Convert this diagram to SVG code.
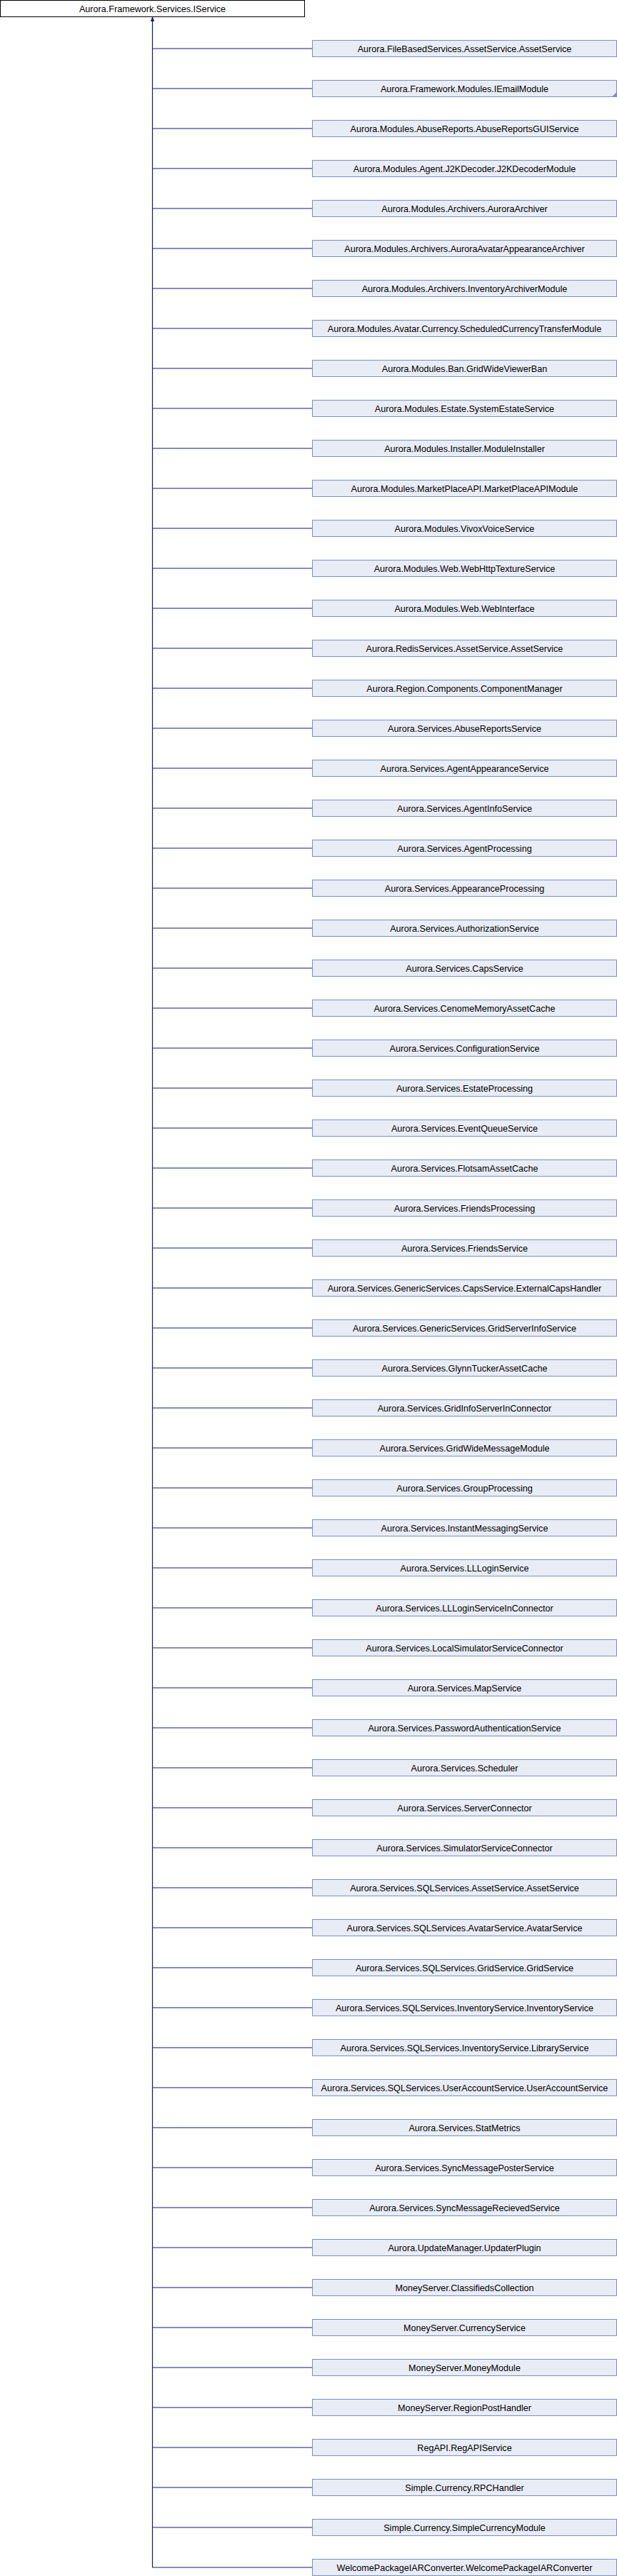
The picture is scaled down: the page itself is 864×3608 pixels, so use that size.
<svg xmlns="http://www.w3.org/2000/svg" width="864" height="3608" viewBox="0 0 864 3608">
<style>
.bg{fill:#ffffff}
.root rect{fill:#ffffff;stroke:#000000;stroke-width:1}
.node rect{fill:#e8ecf5;stroke:#7c8fc6;stroke-width:1}
.node polygon{fill:#7c8fc6}
text{font-family:"Liberation Sans",Arial,sans-serif;font-size:12.6px;fill:#000000;text-anchor:middle}
.edges path{fill:none;stroke:#191970;stroke-width:1.2}
.edges polygon{fill:#191970;stroke:#191970}
</style>
<rect class="bg" x="0" y="0" width="864" height="3608"/>
<g id="edges" class="edges">
<path d="M213.5,29V3596M213.5,68H437.5M213.5,124H437.5M213.5,180H437.5M213.5,236H437.5M213.5,292H437.5M213.5,348H437.5M213.5,404H437.5M213.5,460H437.5M213.5,516H437.5M213.5,572H437.5M213.5,628H437.5M213.5,684H437.5M213.5,740H437.5M213.5,796H437.5M213.5,852H437.5M213.5,908H437.5M213.5,964H437.5M213.5,1020H437.5M213.5,1076H437.5M213.5,1132H437.5M213.5,1188H437.5M213.5,1244H437.5M213.5,1300H437.5M213.5,1356H437.5M213.5,1412H437.5M213.5,1468H437.5M213.5,1524H437.5M213.5,1580H437.5M213.5,1636H437.5M213.5,1692H437.5M213.5,1748H437.5M213.5,1804H437.5M213.5,1860H437.5M213.5,1916H437.5M213.5,1972H437.5M213.5,2028H437.5M213.5,2084H437.5M213.5,2140H437.5M213.5,2196H437.5M213.5,2252H437.5M213.5,2308H437.5M213.5,2364H437.5M213.5,2420H437.5M213.5,2476H437.5M213.5,2532H437.5M213.5,2588H437.5M213.5,2644H437.5M213.5,2700H437.5M213.5,2756H437.5M213.5,2812H437.5M213.5,2868H437.5M213.5,2924H437.5M213.5,2980H437.5M213.5,3036H437.5M213.5,3092H437.5M213.5,3148H437.5M213.5,3204H437.5M213.5,3260H437.5M213.5,3316H437.5M213.5,3372H437.5M213.5,3428H437.5M213.5,3484H437.5M213.5,3540H437.5M213.5,3596H437.5"/>
<polygon points="213.5,24 211.5,29.5 215.5,29.5"/>
</g>
<g id="root" class="root"><rect x="0.5" y="0.5" width="426" height="23"/><text x="213.5" y="16.5">Aurora.Framework.Services.IService</text></g>
<g id="n0" class="node"><rect x="437.5" y="56.5" width="426" height="23"/><text x="650.5" y="72.5">Aurora.FileBasedServices.AssetService.AssetService</text></g>
<g id="n1" class="node"><rect x="437.5" y="112.5" width="426" height="23"/><polygon points="863.5,129 863.5,135.5 857,135.5"/><text x="650.5" y="128.5">Aurora.Framework.Modules.IEmailModule</text></g>
<g id="n2" class="node"><rect x="437.5" y="168.5" width="426" height="23"/><text x="650.5" y="184.5">Aurora.Modules.AbuseReports.AbuseReportsGUIService</text></g>
<g id="n3" class="node"><rect x="437.5" y="224.5" width="426" height="23"/><text x="650.5" y="240.5">Aurora.Modules.Agent.J2KDecoder.J2KDecoderModule</text></g>
<g id="n4" class="node"><rect x="437.5" y="280.5" width="426" height="23"/><text x="650.5" y="296.5">Aurora.Modules.Archivers.AuroraArchiver</text></g>
<g id="n5" class="node"><rect x="437.5" y="336.5" width="426" height="23"/><text x="650.5" y="352.5">Aurora.Modules.Archivers.AuroraAvatarAppearanceArchiver</text></g>
<g id="n6" class="node"><rect x="437.5" y="392.5" width="426" height="23"/><text x="650.5" y="408.5">Aurora.Modules.Archivers.InventoryArchiverModule</text></g>
<g id="n7" class="node"><rect x="437.5" y="448.5" width="426" height="23"/><text x="650.5" y="464.5">Aurora.Modules.Avatar.Currency.ScheduledCurrencyTransferModule</text></g>
<g id="n8" class="node"><rect x="437.5" y="504.5" width="426" height="23"/><text x="650.5" y="520.5">Aurora.Modules.Ban.GridWideViewerBan</text></g>
<g id="n9" class="node"><rect x="437.5" y="560.5" width="426" height="23"/><text x="650.5" y="576.5">Aurora.Modules.Estate.SystemEstateService</text></g>
<g id="n10" class="node"><rect x="437.5" y="616.5" width="426" height="23"/><text x="650.5" y="632.5">Aurora.Modules.Installer.ModuleInstaller</text></g>
<g id="n11" class="node"><rect x="437.5" y="672.5" width="426" height="23"/><text x="650.5" y="688.5">Aurora.Modules.MarketPlaceAPI.MarketPlaceAPIModule</text></g>
<g id="n12" class="node"><rect x="437.5" y="728.5" width="426" height="23"/><text x="650.5" y="744.5">Aurora.Modules.VivoxVoiceService</text></g>
<g id="n13" class="node"><rect x="437.5" y="784.5" width="426" height="23"/><text x="650.5" y="800.5">Aurora.Modules.Web.WebHttpTextureService</text></g>
<g id="n14" class="node"><rect x="437.5" y="840.5" width="426" height="23"/><text x="650.5" y="856.5">Aurora.Modules.Web.WebInterface</text></g>
<g id="n15" class="node"><rect x="437.5" y="896.5" width="426" height="23"/><text x="650.5" y="912.5">Aurora.RedisServices.AssetService.AssetService</text></g>
<g id="n16" class="node"><rect x="437.5" y="952.5" width="426" height="23"/><text x="650.5" y="968.5">Aurora.Region.Components.ComponentManager</text></g>
<g id="n17" class="node"><rect x="437.5" y="1008.5" width="426" height="23"/><text x="650.5" y="1024.5">Aurora.Services.AbuseReportsService</text></g>
<g id="n18" class="node"><rect x="437.5" y="1064.5" width="426" height="23"/><text x="650.5" y="1080.5">Aurora.Services.AgentAppearanceService</text></g>
<g id="n19" class="node"><rect x="437.5" y="1120.5" width="426" height="23"/><text x="650.5" y="1136.5">Aurora.Services.AgentInfoService</text></g>
<g id="n20" class="node"><rect x="437.5" y="1176.5" width="426" height="23"/><text x="650.5" y="1192.5">Aurora.Services.AgentProcessing</text></g>
<g id="n21" class="node"><rect x="437.5" y="1232.5" width="426" height="23"/><text x="650.5" y="1248.5">Aurora.Services.AppearanceProcessing</text></g>
<g id="n22" class="node"><rect x="437.5" y="1288.5" width="426" height="23"/><text x="650.5" y="1304.5">Aurora.Services.AuthorizationService</text></g>
<g id="n23" class="node"><rect x="437.5" y="1344.5" width="426" height="23"/><text x="650.5" y="1360.5">Aurora.Services.CapsService</text></g>
<g id="n24" class="node"><rect x="437.5" y="1400.5" width="426" height="23"/><text x="650.5" y="1416.5">Aurora.Services.CenomeMemoryAssetCache</text></g>
<g id="n25" class="node"><rect x="437.5" y="1456.5" width="426" height="23"/><text x="650.5" y="1472.5">Aurora.Services.ConfigurationService</text></g>
<g id="n26" class="node"><rect x="437.5" y="1512.5" width="426" height="23"/><text x="650.5" y="1528.5">Aurora.Services.EstateProcessing</text></g>
<g id="n27" class="node"><rect x="437.5" y="1568.5" width="426" height="23"/><text x="650.5" y="1584.5">Aurora.Services.EventQueueService</text></g>
<g id="n28" class="node"><rect x="437.5" y="1624.5" width="426" height="23"/><text x="650.5" y="1640.5">Aurora.Services.FlotsamAssetCache</text></g>
<g id="n29" class="node"><rect x="437.5" y="1680.5" width="426" height="23"/><text x="650.5" y="1696.5">Aurora.Services.FriendsProcessing</text></g>
<g id="n30" class="node"><rect x="437.5" y="1736.5" width="426" height="23"/><text x="650.5" y="1752.5">Aurora.Services.FriendsService</text></g>
<g id="n31" class="node"><rect x="437.5" y="1792.5" width="426" height="23"/><text x="650.5" y="1808.5">Aurora.Services.GenericServices.CapsService.ExternalCapsHandler</text></g>
<g id="n32" class="node"><rect x="437.5" y="1848.5" width="426" height="23"/><text x="650.5" y="1864.5">Aurora.Services.GenericServices.GridServerInfoService</text></g>
<g id="n33" class="node"><rect x="437.5" y="1904.5" width="426" height="23"/><text x="650.5" y="1920.5">Aurora.Services.GlynnTuckerAssetCache</text></g>
<g id="n34" class="node"><rect x="437.5" y="1960.5" width="426" height="23"/><text x="650.5" y="1976.5">Aurora.Services.GridInfoServerInConnector</text></g>
<g id="n35" class="node"><rect x="437.5" y="2016.5" width="426" height="23"/><text x="650.5" y="2032.5">Aurora.Services.GridWideMessageModule</text></g>
<g id="n36" class="node"><rect x="437.5" y="2072.5" width="426" height="23"/><text x="650.5" y="2088.5">Aurora.Services.GroupProcessing</text></g>
<g id="n37" class="node"><rect x="437.5" y="2128.5" width="426" height="23"/><text x="650.5" y="2144.5">Aurora.Services.InstantMessagingService</text></g>
<g id="n38" class="node"><rect x="437.5" y="2184.5" width="426" height="23"/><text x="650.5" y="2200.5">Aurora.Services.LLLoginService</text></g>
<g id="n39" class="node"><rect x="437.5" y="2240.5" width="426" height="23"/><text x="650.5" y="2256.5">Aurora.Services.LLLoginServiceInConnector</text></g>
<g id="n40" class="node"><rect x="437.5" y="2296.5" width="426" height="23"/><text x="650.5" y="2312.5">Aurora.Services.LocalSimulatorServiceConnector</text></g>
<g id="n41" class="node"><rect x="437.5" y="2352.5" width="426" height="23"/><text x="650.5" y="2368.5">Aurora.Services.MapService</text></g>
<g id="n42" class="node"><rect x="437.5" y="2408.5" width="426" height="23"/><text x="650.5" y="2424.5">Aurora.Services.PasswordAuthenticationService</text></g>
<g id="n43" class="node"><rect x="437.5" y="2464.5" width="426" height="23"/><text x="650.5" y="2480.5">Aurora.Services.Scheduler</text></g>
<g id="n44" class="node"><rect x="437.5" y="2520.5" width="426" height="23"/><text x="650.5" y="2536.5">Aurora.Services.ServerConnector</text></g>
<g id="n45" class="node"><rect x="437.5" y="2576.5" width="426" height="23"/><text x="650.5" y="2592.5">Aurora.Services.SimulatorServiceConnector</text></g>
<g id="n46" class="node"><rect x="437.5" y="2632.5" width="426" height="23"/><text x="650.5" y="2648.5">Aurora.Services.SQLServices.AssetService.AssetService</text></g>
<g id="n47" class="node"><rect x="437.5" y="2688.5" width="426" height="23"/><text x="650.5" y="2704.5">Aurora.Services.SQLServices.AvatarService.AvatarService</text></g>
<g id="n48" class="node"><rect x="437.5" y="2744.5" width="426" height="23"/><text x="650.5" y="2760.5">Aurora.Services.SQLServices.GridService.GridService</text></g>
<g id="n49" class="node"><rect x="437.5" y="2800.5" width="426" height="23"/><text x="650.5" y="2816.5">Aurora.Services.SQLServices.InventoryService.InventoryService</text></g>
<g id="n50" class="node"><rect x="437.5" y="2856.5" width="426" height="23"/><text x="650.5" y="2872.5">Aurora.Services.SQLServices.InventoryService.LibraryService</text></g>
<g id="n51" class="node"><rect x="437.5" y="2912.5" width="426" height="23"/><text x="650.5" y="2928.5">Aurora.Services.SQLServices.UserAccountService.UserAccountService</text></g>
<g id="n52" class="node"><rect x="437.5" y="2968.5" width="426" height="23"/><text x="650.5" y="2984.5">Aurora.Services.StatMetrics</text></g>
<g id="n53" class="node"><rect x="437.5" y="3024.5" width="426" height="23"/><text x="650.5" y="3040.5">Aurora.Services.SyncMessagePosterService</text></g>
<g id="n54" class="node"><rect x="437.5" y="3080.5" width="426" height="23"/><text x="650.5" y="3096.5">Aurora.Services.SyncMessageRecievedService</text></g>
<g id="n55" class="node"><rect x="437.5" y="3136.5" width="426" height="23"/><text x="650.5" y="3152.5">Aurora.UpdateManager.UpdaterPlugin</text></g>
<g id="n56" class="node"><rect x="437.5" y="3192.5" width="426" height="23"/><text x="650.5" y="3208.5">MoneyServer.ClassifiedsCollection</text></g>
<g id="n57" class="node"><rect x="437.5" y="3248.5" width="426" height="23"/><text x="650.5" y="3264.5">MoneyServer.CurrencyService</text></g>
<g id="n58" class="node"><rect x="437.5" y="3304.5" width="426" height="23"/><text x="650.5" y="3320.5">MoneyServer.MoneyModule</text></g>
<g id="n59" class="node"><rect x="437.5" y="3360.5" width="426" height="23"/><text x="650.5" y="3376.5">MoneyServer.RegionPostHandler</text></g>
<g id="n60" class="node"><rect x="437.5" y="3416.5" width="426" height="23"/><text x="650.5" y="3432.5">RegAPI.RegAPIService</text></g>
<g id="n61" class="node"><rect x="437.5" y="3472.5" width="426" height="23"/><text x="650.5" y="3488.5">Simple.Currency.RPCHandler</text></g>
<g id="n62" class="node"><rect x="437.5" y="3528.5" width="426" height="23"/><text x="650.5" y="3544.5">Simple.Currency.SimpleCurrencyModule</text></g>
<g id="n63" class="node"><rect x="437.5" y="3584.5" width="426" height="23"/><text x="650.5" y="3600.5">WelcomePackageIARConverter.WelcomePackageIARConverter</text></g>
</svg>
